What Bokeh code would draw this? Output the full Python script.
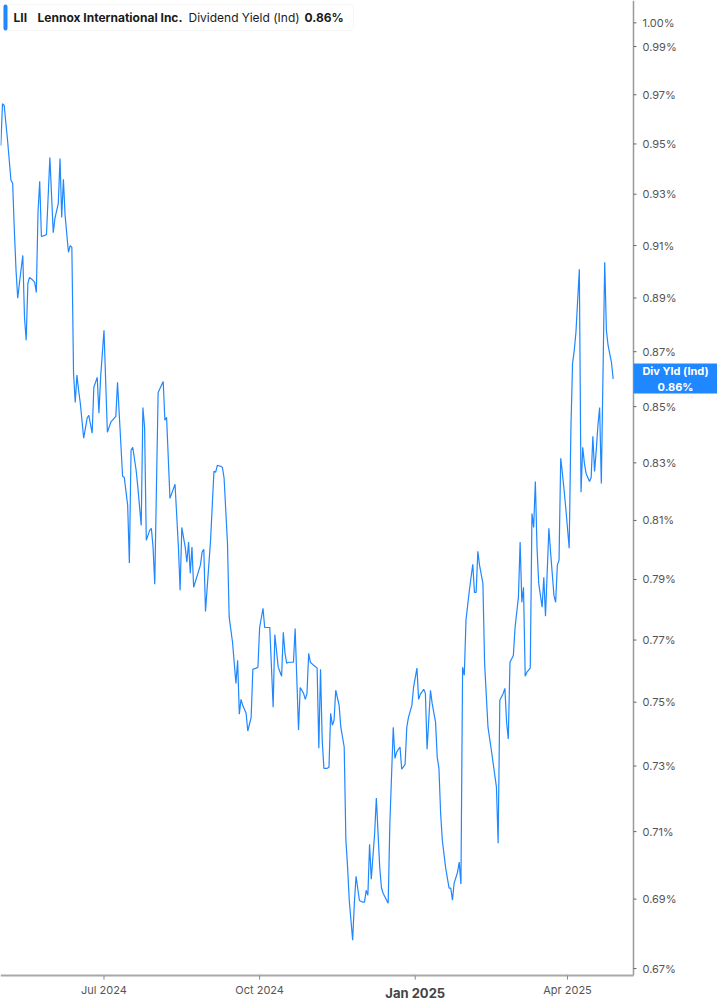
import math
import pandas as pd
from bokeh.plotting import figure
from bokeh.embed import file_html
from bokeh.resources import INLINE
from bokeh.core.properties import value
from bokeh.models import ColumnDataSource, Range1d, Label, BoxAnnotation

# header text
symbol = "LII"
company = "Lennox International Inc."
metric = "Dividend Yield (Ind)"
last_text = "0.86%"
tag_text = "Div Yld (Ind)\n0.86%"
last_value = 0.86

# dividend yield (%)
dates = [
    "2024-05-01", "2024-05-02", "2024-05-03", "2024-05-05", "2024-05-07", "2024-05-08",
    "2024-05-09", "2024-05-10", "2024-05-11", "2024-05-12", "2024-05-14", "2024-05-15",
    "2024-05-16", "2024-05-17", "2024-05-18", "2024-05-20", "2024-05-21", "2024-05-22",
    "2024-05-23", "2024-05-24", "2024-05-25", "2024-05-27", "2024-05-28", "2024-05-30",
    "2024-06-01", "2024-06-02", "2024-06-04", "2024-06-05", "2024-06-06", "2024-06-07",
    "2024-06-08", "2024-06-10", "2024-06-11", "2024-06-12", "2024-06-13", "2024-06-14",
    "2024-06-15", "2024-06-16", "2024-06-17", "2024-06-19", "2024-06-21", "2024-06-22",
    "2024-06-24", "2024-06-25", "2024-06-27", "2024-06-28", "2024-06-29", "2024-07-01",
    "2024-07-03", "2024-07-05", "2024-07-08", "2024-07-09", "2024-07-12", "2024-07-13",
    "2024-07-15", "2024-07-16", "2024-07-17", "2024-07-18", "2024-07-20", "2024-07-21",
    "2024-07-23", "2024-07-24", "2024-07-25", "2024-07-26", "2024-07-28", "2024-07-29",
    "2024-07-30", "2024-07-31", "2024-08-02", "2024-08-05", "2024-08-06", "2024-08-07",
    "2024-08-09", "2024-08-12", "2024-08-14", "2024-08-15", "2024-08-16", "2024-08-18",
    "2024-08-19", "2024-08-20", "2024-08-21", "2024-08-22", "2024-08-23", "2024-08-27",
    "2024-08-28", "2024-08-29", "2024-08-30", "2024-09-02", "2024-09-04", "2024-09-05",
    "2024-09-06", "2024-09-08", "2024-09-09", "2024-09-10", "2024-09-12", "2024-09-13",
    "2024-09-15", "2024-09-16", "2024-09-17", "2024-09-18", "2024-09-19", "2024-09-20",
    "2024-09-21", "2024-09-23", "2024-09-24", "2024-09-26", "2024-09-27", "2024-09-29",
    "2024-09-30", "2024-10-01", "2024-10-03", "2024-10-04", "2024-10-07", "2024-10-08",
    "2024-10-09", "2024-10-10", "2024-10-12", "2024-10-14", "2024-10-15", "2024-10-16",
    "2024-10-17", "2024-10-18", "2024-10-21", "2024-10-22", "2024-10-24", "2024-10-25",
    "2024-10-27", "2024-10-28", "2024-10-29", "2024-10-30", "2024-10-31", "2024-11-02",
    "2024-11-04", "2024-11-05", "2024-11-06", "2024-11-07", "2024-11-08", "2024-11-10",
    "2024-11-11", "2024-11-12", "2024-11-13", "2024-11-14", "2024-11-15", "2024-11-17",
    "2024-11-18", "2024-11-20", "2024-11-21", "2024-11-22", "2024-11-23", "2024-11-25",
    "2024-11-26", "2024-11-27", "2024-11-29", "2024-12-01", "2024-12-02", "2024-12-03",
    "2024-12-04", "2024-12-05", "2024-12-06", "2024-12-08", "2024-12-09", "2024-12-11",
    "2024-12-12", "2024-12-13", "2024-12-16", "2024-12-17", "2024-12-19", "2024-12-20",
    "2024-12-21", "2024-12-23", "2024-12-24", "2024-12-26", "2024-12-27", "2024-12-28",
    "2024-12-30", "2024-12-31", "2025-01-02", "2025-01-03", "2025-01-04", "2025-01-06",
    "2025-01-07", "2025-01-08", "2025-01-10", "2025-01-11", "2025-01-13", "2025-01-14",
    "2025-01-15", "2025-01-16", "2025-01-17", "2025-01-19", "2025-01-21", "2025-01-22",
    "2025-01-23", "2025-01-24", "2025-01-26", "2025-01-27", "2025-01-28", "2025-01-29",
    "2025-01-30", "2025-01-31", "2025-02-02", "2025-02-04", "2025-02-05", "2025-02-06",
    "2025-02-07", "2025-02-08", "2025-02-10", "2025-02-11", "2025-02-13", "2025-02-15",
    "2025-02-18", "2025-02-19", "2025-02-20", "2025-02-22", "2025-02-23", "2025-02-24",
    "2025-02-25", "2025-02-26", "2025-02-28", "2025-03-01", "2025-03-03", "2025-03-04",
    "2025-03-05", "2025-03-06", "2025-03-07", "2025-03-08", "2025-03-10", "2025-03-11",
    "2025-03-12", "2025-03-13", "2025-03-14", "2025-03-15", "2025-03-17", "2025-03-18",
    "2025-03-19", "2025-03-21", "2025-03-22", "2025-03-24", "2025-03-25", "2025-03-26",
    "2025-03-27", "2025-03-28", "2025-03-29", "2025-03-30", "2025-03-31", "2025-04-02",
    "2025-04-03", "2025-04-04", "2025-04-05", "2025-04-06", "2025-04-08", "2025-04-09",
    "2025-04-10", "2025-04-11", "2025-04-12", "2025-04-14", "2025-04-15", "2025-04-16",
    "2025-04-17", "2025-04-18", "2025-04-19", "2025-04-20", "2025-04-21", "2025-04-23",
    "2025-04-24", "2025-04-25", "2025-04-27", "2025-04-28",
]
yield_pct = [
    0.9494, 0.9663, 0.9656, 0.9514, 0.9355, 0.9343,
    0.9159, 0.9005, 0.8899, 0.8956, 0.9062, 0.8828,
    0.8742, 0.8956, 0.8978, 0.8967, 0.8960, 0.8921,
    0.9229, 0.9351, 0.9135, 0.9139, 0.9143, 0.9446,
    0.9150, 0.9205, 0.9264, 0.9442, 0.9209, 0.9359,
    0.9217, 0.9074, 0.9100, 0.9093, 0.8621, 0.8515,
    0.8614, 0.8559, 0.8512, 0.8387, 0.8458, 0.8469,
    0.8405, 0.8570, 0.8606, 0.8476, 0.8606, 0.8779,
    0.8408, 0.8444, 0.8465, 0.8588, 0.8253, 0.8249,
    0.8152, 0.7955, 0.8344, 0.8355, 0.8274, 0.8215,
    0.8083, 0.8497, 0.8426, 0.8032, 0.8066, 0.8073,
    0.8009, 0.7884, 0.8551, 0.8591, 0.8451, 0.8462,
    0.8176, 0.8225, 0.8009, 0.7864, 0.8076, 0.8009,
    0.7958, 0.8026, 0.7921, 0.8009, 0.7874, 0.7948,
    0.7992, 0.8002, 0.7794, 0.8032, 0.8270, 0.8267,
    0.8291, 0.8288, 0.8284, 0.8246, 0.8022, 0.7775,
    0.7692, 0.7625, 0.7560, 0.7634, 0.7462, 0.7509,
    0.7490, 0.7465, 0.7409, 0.7452, 0.7605, 0.7609,
    0.7612, 0.7741, 0.7804, 0.7741, 0.7741, 0.7612,
    0.7484, 0.7718, 0.7612, 0.7583, 0.7725, 0.7657,
    0.7625, 0.7628, 0.7628, 0.7738, 0.7412, 0.7547,
    0.7528, 0.7509, 0.7528, 0.7657, 0.7628, 0.7618,
    0.7609, 0.7355, 0.7605, 0.7380, 0.7293, 0.7293,
    0.7296, 0.7465, 0.7427, 0.7443, 0.7538, 0.7490,
    0.7421, 0.7359, 0.7074, 0.6994, 0.6896, 0.6781,
    0.6888, 0.6967, 0.6896, 0.6891, 0.6891, 0.6926,
    0.6911, 0.7062, 0.6958, 0.7095, 0.7202, 0.6994,
    0.6934, 0.6917, 0.6888, 0.7125, 0.7421, 0.7324,
    0.7343, 0.7359, 0.7290, 0.7305, 0.7421, 0.7452,
    0.7490, 0.7547, 0.7609, 0.7509, 0.7525, 0.7541,
    0.7528, 0.7352, 0.7538, 0.7496, 0.7437, 0.7327,
    0.7293, 0.7156, 0.7074, 0.6991, 0.6932, 0.6932,
    0.6897, 0.6947, 0.6979, 0.7009, 0.6944, 0.7612,
    0.7586, 0.7765, 0.7864, 0.7951, 0.7857, 0.7857,
    0.7995, 0.7948, 0.7887, 0.7625, 0.7421, 0.7349,
    0.7235, 0.7065, 0.7506, 0.7528, 0.7544, 0.7437,
    0.7384, 0.7628, 0.7650, 0.7741, 0.7841, 0.8026,
    0.7824, 0.7874, 0.7583, 0.7596, 0.7609, 0.8124,
    0.8076, 0.8235, 0.8005, 0.7887, 0.7808, 0.7907,
    0.7778, 0.8073, 0.7992, 0.7847, 0.7824, 0.7948,
    0.7965, 0.8316, 0.8263, 0.8204, 0.8142, 0.8005,
    0.8415, 0.8657, 0.8705, 0.8772, 0.9009, 0.8197,
    0.8355, 0.8298, 0.8263, 0.8235, 0.8249, 0.8394,
    0.8270, 0.8344, 0.8433, 0.8497, 0.8228, 0.9036,
    0.8779, 0.8723, 0.8661, 0.8600,
]

y_ticks = [0.67, 0.69, 0.71, 0.73, 0.75, 0.77, 0.79, 0.81, 0.83,
           0.85, 0.87, 0.89, 0.91, 0.93, 0.95, 0.97, 0.99, 1.00]
x_tick_dates = ["2024-07-01", "2024-10-01", "2025-04-01"]
x_tick_labels = ["Jul 2024", "Oct 2024", "Apr 2025"]
year_start = "2025-01-01"
year_label = "Jan 2025"

BLUE = "#1f87ff"
FONT = "Inter"

# plot window: the price axis sits at axis_edge, the time axis at axis_floor
x_start, x_end = "2024-04-30 19:40", "2025-06-28 16:20"
axis_edge = "2025-05-10 00:30"
axis_floor, y_top = 0.668, 1.0095

src = ColumnDataSource(dict(date=pd.to_datetime(dates), yld=yield_pct))
ysrc = ColumnDataSource(dict(
    x=[pd.Timestamp(axis_edge)] * len(y_ticks),
    y=y_ticks,
    label=["%.2f%%" % t for t in y_ticks],
))
xsrc = ColumnDataSource(dict(
    x=pd.to_datetime(x_tick_dates),
    y=[axis_floor] * len(x_tick_dates),
    label=x_tick_labels,
))

p = figure(
    width=717,
    height=1005,
    x_axis_type="datetime",
    y_axis_type="log",
    x_axis_location=None,
    y_axis_location=None,
    x_range=Range1d(pd.Timestamp(x_start), pd.Timestamp(x_end)),
    y_range=Range1d(0.6596, y_top),
    min_border=0,
    output_backend="svg",
    toolbar_location=None,
    tools="",
)
p.grid.visible = False
p.outline_line_color = None

p.line("date", "yld", source=src, line_color=BLUE, line_width=1.2)

# price axis (right)
p.segment(x0=[pd.Timestamp(axis_edge)], y0=[axis_floor], x1=[pd.Timestamp(axis_edge)],
          y1=[y_top], line_color="#9a9a9a", line_width=1.5)
p.ray(x="x", y="y", source=ysrc, length=3, length_units="screen", angle=0,
      line_color="#666666", line_width=1)
p.text(x="x", y="y", text="label", source=ysrc, x_offset=9, text_align="left",
       text_baseline="middle", text_font=value(FONT), text_font_size="11px",
       text_color="#555555")

# time axis (bottom)
p.segment(x0=[pd.Timestamp(x_start)], y0=[axis_floor], x1=[pd.Timestamp(axis_edge)],
          y1=[axis_floor], line_color="#a8a8a8", line_width=2)
p.ray(x=list(pd.to_datetime(x_tick_dates + [year_start])), y=[axis_floor] * 4,
      length=4, length_units="screen", angle=-math.pi / 2,
      line_color="#888888", line_width=1)
p.text(x="x", y="y", text="label", source=xsrc, y_offset=14, text_align="center",
       text_baseline="middle", text_font=value(FONT), text_font_size="11px",
       text_color="#555555")
p.text(x=[pd.Timestamp(year_start)], y=[axis_floor], text=[year_label], y_offset=17,
       text_align="center", text_baseline="middle", text_font=value(FONT),
       text_font_size="13px", text_font_style="bold", text_color="#444444")

# last value tag on the price axis
p.add_layout(BoxAnnotation(left=633, right=717, top=642, bottom=612,
                           left_units="screen", right_units="screen",
                           top_units="screen", bottom_units="screen",
                           fill_color=BLUE, fill_alpha=1.0, line_color=None))
p.add_layout(Label(x=675, y=last_value, x_units="screen", y_units="data",
                   text=tag_text, text_align="center", text_baseline="middle",
                   text_font=FONT, text_font_size="11px", text_font_style="bold",
                   text_color="white", text_line_height=1.1))

# legend box, top left
p.add_layout(BoxAnnotation(left=3, right=353, top=1001, bottom=975,
                           left_units="screen", right_units="screen",
                           top_units="screen", bottom_units="screen",
                           fill_color="white", fill_alpha=1.0,
                           line_color="#e2e2e2", line_width=1, border_radius=3))
p.add_layout(BoxAnnotation(left=3, right=7, top=1001, bottom=975,
                           left_units="screen", right_units="screen",
                           top_units="screen", bottom_units="screen",
                           fill_color=BLUE, fill_alpha=1.0, line_color=None,
                           border_radius=2))

for x, txt, style in [(13, symbol, "bold"), (37, company, "bold"),
                      (188, metric, "normal"), (304, last_text, "bold")]:
    p.add_layout(Label(x=x, y=988, x_units="screen", y_units="screen", text=txt,
                       text_align="left", text_baseline="middle", text_font=FONT,
                       text_font_size="12px", text_font_style=style,
                       text_color="#1a1a1a"))

open("out.html", "w").write(file_html(p, INLINE))
